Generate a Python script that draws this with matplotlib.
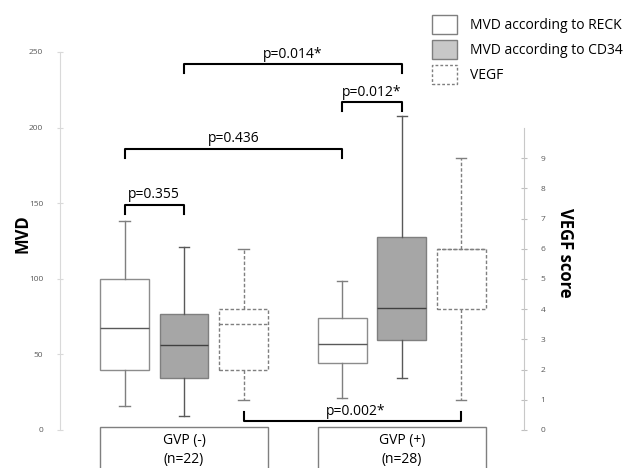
import matplotlib.pyplot as plt
from matplotlib.patches import Patch, Rectangle

plt.rcParams['font.family'] = ['Open Sans', 'DejaVu Sans']

# group labels
groups = ['GVP (-)\n(n=22)', 'GVP (+)\n(n=28)']
series = ['MVD according to RECK', 'MVD according to CD34', 'VEGF']

# box stats per group: whislo, q1, median, q3, whishi
reck = [[16, 40, 67.5, 100, 138], [21, 44.5, 57, 74, 98.5]]
cd34 = [[9, 34.5, 56, 77, 121], [34.5, 59.5, 81, 127.5, 208]]
vegf = [[1, 2, 3.5, 4, 6], [1, 4, 6, 6, 9]]

# comparisons: (series, group) -> (series, group), label, bracket height (MVD scale)
comparisons = [
    ((0, 0), (1, 0), 'p=0.355', 149),
    ((0, 0), (0, 1), 'p=0.436', 186),
    ((0, 1), (1, 1), 'p=0.012*', 217),
    ((1, 0), (1, 1), 'p=0.014*', 242),
]
bottom_comp = ((2, 0), (2, 1), 'p=0.002*', 6)

group_offset = [0, 3.66]
box_w = 0.82


def xpos(s, g):
    return 1 + s + group_offset[g]


def stats(vals):
    lo, q1, med, q3, hi = vals
    return dict(whislo=lo, q1=q1, med=med, q3=q3, whishi=hi, fliers=[])


fig = plt.figure(figsize=(6.29, 4.68), dpi=100)
ax = fig.add_axes([60 / 629, 38 / 468, 464 / 629, 378 / 468])
ax2 = ax.twinx()

edge = '#7f7f7f'
dash = (0, (2.5, 1.5))

# RECK boxes
ax.bxp([stats(v) for v in reck], positions=[xpos(0, g) for g in range(2)],
       widths=box_w, capwidths=0.17, patch_artist=True, showfliers=False,
       boxprops=dict(facecolor='white', edgecolor='#8c8c8c', linewidth=1),
       whiskerprops=dict(color=edge, linewidth=1),
       capprops=dict(color=edge, linewidth=1),
       medianprops=dict(color='#595959', linewidth=1))

# CD34 boxes
ax.bxp([stats(v) for v in cd34], positions=[xpos(1, g) for g in range(2)],
       widths=box_w, capwidths=0.17, patch_artist=True, showfliers=False,
       boxprops=dict(facecolor='#a6a6a6', edgecolor=edge, linewidth=1),
       whiskerprops=dict(color='#595959', linewidth=1),
       capprops=dict(color='#595959', linewidth=1),
       medianprops=dict(color='#404040', linewidth=1))

# VEGF boxes on right axis
ax2.bxp([stats(v) for v in vegf], positions=[xpos(2, g) for g in range(2)],
        widths=box_w, capwidths=0.17, patch_artist=True, showfliers=False,
        boxprops=dict(facecolor='white', edgecolor=edge, linewidth=1, linestyle=dash),
        whiskerprops=dict(color=edge, linewidth=1, linestyle=dash),
        capprops=dict(color=edge, linewidth=1),
        medianprops=dict(color=edge, linewidth=1, linestyle=dash))

ax.set_xlim(-0.084, 7.714)
ax.set_ylim(0, 250)
ax2.set_ylim(0, 250 * 1.512 / 30.2)

for s in ['top', 'right', 'bottom']:
    ax.spines[s].set_visible(False)
for s in ['top', 'left', 'bottom']:
    ax2.spines[s].set_visible(False)
ax.spines['left'].set_color('#d9d9d9')
ax.spines['left'].set_bounds(0, 250)
ax2.spines['right'].set_color('#c8c8c8')
ax2.spines['right'].set_bounds(0, 10)

ax.set_xticks([])
ax.set_yticks(range(0, 251, 50))
ax.tick_params(axis='y', direction='inout', length=4, color='#d9d9d9',
               labelsize=6, labelcolor='#595959', pad=10)
ax2.set_yticks(range(0, 10))
ax2.tick_params(axis='y', direction='inout', length=4, color='#bfbfbf',
                labelsize=6, labelcolor='#595959', pad=10)

ax.set_ylabel('MVD', fontsize=12, fontweight='bold', va='center')
ax.yaxis.set_label_coords(-0.08, 0.52)
ax2.set_ylabel('VEGF score', fontsize=12, fontweight='bold', rotation=-90, va='center')
ax2.yaxis.set_label_coords(1.088, 0.468)

# brackets
tick = 6
for (a, b, label, h) in comparisons:
    x1, x2 = xpos(*a), xpos(*b)
    ax.plot([x1, x1, x2, x2], [h - tick, h, h, h - tick], color='black', lw=1.5,
            clip_on=False)
    ax.text((x1 + x2) / 2, h + 1.5, label, ha='center', va='bottom', fontsize=10)

(a, b, label, h) = bottom_comp
x1, x2 = xpos(*a), xpos(*b)
ax.plot([x1, x1, x2, x2], [h + tick, h, h, h + tick], color='black', lw=1.5,
        clip_on=False)
ax.text((x1 + x2) / 2 + 0.05, h + 1, label, ha='center', va='bottom', fontsize=10)

# group label boxes below the axis
for g, name in enumerate(groups):
    cx = xpos(1, g)
    ax.add_patch(Rectangle((cx - 1.41, -40), 2.82, 42, facecolor='white',
                           edgecolor=edge, linewidth=1, clip_on=False))
    ax.text(cx, -13, name, ha='center', va='center', fontsize=10,
            linespacing=1.35)

# legend
handles = [
    Patch(facecolor='white', edgecolor=edge, linewidth=1),
    Patch(facecolor='#c8c8c8', edgecolor=edge, linewidth=1),
    Patch(facecolor='white', edgecolor=edge, linewidth=1, linestyle=(0, (2, 1.5))),
]
fig.legend(handles, series, loc='upper left', bbox_to_anchor=(432 / 629, 1 - 15 / 468),
           frameon=False, fontsize=10, handlelength=1.8, handleheight=1.7,
           handletextpad=0.9, labelspacing=0.45, borderpad=0, borderaxespad=0)

fig.savefig('out.png', dpi=100)
